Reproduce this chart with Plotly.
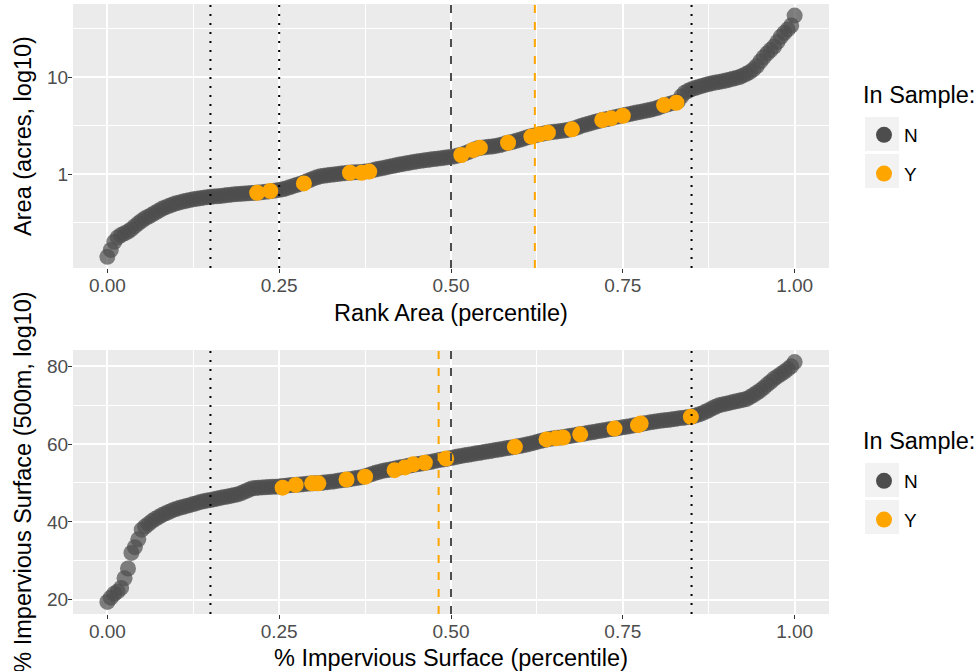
import plotly.graph_objects as go
import pandas as pd

# ---------------- data ----------------
# Top panel: site area (acres), sorted ascending
area_acres = [0.14, 0.165, 0.20, 0.222, 0.235, 0.245, 0.255, 0.27, 0.29, 0.31,
              0.33, 0.35, 0.365, 0.382, 0.40, 0.42, 0.44, 0.455, 0.47, 0.485,
              0.50, 0.51, 0.52, 0.53, 0.54, 0.548, 0.555, 0.562, 0.57, 0.577,
              0.583, 0.587, 0.59, 0.595, 0.60, 0.606, 0.612, 0.617, 0.622, 0.626,
              0.63, 0.633, 0.637, 0.641, 0.645, 0.65, 0.655, 0.662, 0.67, 0.677,
              0.685, 0.697, 0.71, 0.73, 0.75, 0.77, 0.79, 0.815, 0.84, 0.87,
              0.90, 0.925, 0.95, 0.96, 0.97, 0.98, 0.99, 1.00, 1.01, 1.02,
              1.03, 1.035, 1.04, 1.045, 1.05, 1.06, 1.07, 1.09, 1.11, 1.13,
              1.15, 1.17, 1.19, 1.21, 1.23, 1.25, 1.27, 1.29, 1.31, 1.33,
              1.35, 1.365, 1.38, 1.395, 1.41, 1.425, 1.44, 1.455, 1.47, 1.485,
              1.50, 1.52, 1.55, 1.58, 1.63, 1.68, 1.74, 1.80, 1.85, 1.87,
              1.89, 1.905, 1.92, 1.95, 1.98, 2.02, 2.07, 2.11, 2.15, 2.20,
              2.25, 2.31, 2.38, 2.43, 2.48, 2.53, 2.58, 2.62, 2.66, 2.69,
              2.72, 2.75, 2.78, 2.81, 2.85, 2.90, 2.96, 3.05, 3.15, 3.22,
              3.30, 3.37, 3.45, 3.52, 3.60, 3.66, 3.72, 3.80, 3.88, 3.95,
              4.02, 4.08, 4.15, 4.22, 4.30, 4.37, 4.45, 4.52, 4.60, 4.69,
              4.78, 4.95, 5.10, 5.22, 5.35, 5.47, 5.60, 6.30, 6.90, 7.20,
              7.50, 7.70, 7.90, 8.10, 8.30, 8.48, 8.65, 8.78, 8.90, 9.05,
              9.20, 9.40, 9.60, 9.80, 10.0, 10.4, 10.8, 11.3, 12.0, 13.0,
              14.5, 16.0, 17.5, 19.0, 20.6, 23.0, 26.0, 28.5, 31.0, 34.0,
              43.0]

# Bottom panel: % impervious surface (500m), sorted ascending
impervious = [19.4, 20.5, 21.5, 22.1, 23.0, 25.5, 28.0, 32.0, 33.5, 35.5,
              38.0, 38.8, 39.5, 40.2, 40.8, 41.3, 41.8, 42.2, 42.6, 43.0,
              43.3, 43.6, 43.8, 44.1, 44.3, 44.6, 44.8, 45.1, 45.3, 45.5,
              45.6, 45.8, 46.0, 46.2, 46.4, 46.5, 46.7, 46.9, 47.1, 47.4,
              47.8, 48.2, 48.6, 48.7, 48.8, 48.85, 48.9, 48.95, 49.0, 49.05,
              49.1, 49.2, 49.3, 49.4, 49.5, 49.55, 49.6, 49.7, 49.8, 49.85,
              49.9, 49.95, 50.0, 50.1, 50.2, 50.3, 50.4, 50.55, 50.7, 50.8,
              50.9, 51.05, 51.2, 51.35, 51.5, 51.7, 52.0, 52.3, 52.6, 52.85,
              53.1, 53.25, 53.4, 53.6, 53.8, 53.95, 54.1, 54.3, 54.5, 54.65,
              54.8, 54.95, 55.1, 55.25, 55.4, 55.6, 55.8, 55.95, 56.1, 56.25,
              56.4, 56.6, 56.8, 56.95, 57.1, 57.25, 57.4, 57.55, 57.7, 57.85,
              58.0, 58.15, 58.3, 58.45, 58.6, 58.75, 58.9, 59.05, 59.2, 59.35,
              59.5, 59.7, 59.9, 60.1, 60.3, 60.55, 60.8, 61.0, 61.2, 61.35,
              61.5, 61.6, 61.7, 61.85, 62.0, 62.15, 62.3, 62.45, 62.6, 62.75,
              62.9, 63.05, 63.2, 63.35, 63.5, 63.65, 63.8, 63.9, 64.0, 64.15,
              64.3, 64.45, 64.6, 64.75, 64.9, 65.1, 65.3, 65.45, 65.6, 65.75,
              65.9, 66.0, 66.1, 66.2, 66.3, 66.45, 66.6, 66.7, 66.8, 66.95,
              67.1, 67.3, 67.6, 67.9, 68.3, 68.7, 69.2, 69.6, 70.0, 70.2,
              70.4, 70.6, 70.8, 71.0, 71.2, 71.4, 71.6, 72.1, 72.6, 73.2,
              73.8, 74.5, 75.3, 76.0, 76.8, 77.4, 78.0, 78.6, 79.3, 80.0,
              81.1]

# Sampled sites (In Sample = Y)
sample_area_rank = [0.218, 0.237, 0.286, 0.353, 0.370, 0.381, 0.515, 0.532, 0.542, 0.583,
                    0.617, 0.629, 0.641, 0.676, 0.720, 0.733, 0.750, 0.810, 0.828]
sample_area_acres = [0.641, 0.668, 0.80, 1.03, 1.03, 1.06, 1.57, 1.77, 1.87, 2.10,
                     2.43, 2.57, 2.67, 2.89, 3.60, 3.75, 3.99, 5.14, 5.43]

sample_imp_rank = [0.255, 0.274, 0.298, 0.307, 0.348, 0.375, 0.418, 0.433, 0.445, 0.462,
                   0.493, 0.593, 0.639, 0.653, 0.663, 0.688, 0.738, 0.772, 0.776, 0.849]
sample_imp_value = [48.8, 49.5, 49.9, 49.9, 50.9, 51.6, 53.3, 54.0, 54.8, 55.2,
                    56.3, 59.3, 61.2, 61.5, 61.7, 62.5, 64.0, 64.9, 65.3, 67.0]

# Reference lines
area_cutoffs = [0.15, 0.25, 0.85]
imp_cutoffs = [0.15, 0.85]
median_rank = 0.50
sample_mean_area_rank = 0.622
sample_mean_imp_rank = 0.482

x_ticks = [0, 0.25, 0.5, 0.75, 1.0]
x_tick_labels = ["0.00", "0.25", "0.50", "0.75", "1.00"]
area_ticks = [1, 10]
area_tick_labels = ["1", "10"]
imp_ticks = [20, 40, 60, 80]
legend_labels = ["N", "Y"]
legend_title = "In Sample:"

# ---------------- styles ----------------
GREY = "#4d4d4d"
ORANGE = "#FFA500"
PANEL = "#ebebeb"
FONT = "Liberation Sans, Arial, sans-serif"
MS = 16
TICK_FS = 19
TITLE_FS = 23.5

W, H = 977, 671
ML, MR, MT, MB = 73, 148, 4, 57
PW, PH = W - ML - MR, H - MT - MB


def px_x(p):
    return (p - ML) / PW


def px_y(p):
    return (H - MB - p) / PH


def pct_rank(vals):
    s = pd.Series(vals)
    return ((s.rank(method="first") - 1) / (len(s) - 1)).tolist()


fig = go.Figure()

# top panel
fig.add_trace(go.Scatter(x=pct_rank(area_acres), y=area_acres, mode="markers",
                         marker=dict(size=MS, color=GREY, opacity=0.7, line=dict(width=0)),
                         xaxis="x", yaxis="y", showlegend=False, hoverinfo="skip"))
fig.add_trace(go.Scatter(x=sample_area_rank, y=sample_area_acres, mode="markers",
                         marker=dict(size=MS, color=ORANGE, line=dict(width=0)),
                         xaxis="x", yaxis="y", showlegend=False))
# bottom panel
fig.add_trace(go.Scatter(x=pct_rank(impervious), y=impervious, mode="markers",
                         marker=dict(size=MS, color=GREY, opacity=0.7, line=dict(width=0)),
                         xaxis="x2", yaxis="y2", showlegend=False, hoverinfo="skip"))
fig.add_trace(go.Scatter(x=sample_imp_rank, y=sample_imp_value, mode="markers",
                         marker=dict(size=MS, color=ORANGE, line=dict(width=0)),
                         xaxis="x2", yaxis="y2", showlegend=False))

# legend entries
for leg, xa, ya in (("legend", "x", "y"), ("legend2", "x2", "y2")):
    for lab, col in zip(legend_labels, [GREY, ORANGE]):
        fig.add_trace(go.Scatter(x=[None], y=[None], mode="markers", name=lab,
                                 marker=dict(size=16, color=col),
                                 legend=leg, legendgroup=leg + lab,
                                 xaxis=xa, yaxis=ya, showlegend=True))

shapes = []
for c in area_cutoffs:
    shapes.append(dict(type="line", xref="x", yref="y domain", x0=c, x1=c, y0=0, y1=1,
                       line=dict(color="black", width=2, dash="2px,7px")))
shapes.append(dict(type="line", xref="x", yref="y domain", x0=median_rank, x1=median_rank, y0=0, y1=1,
                   line=dict(color=GREY, width=2, dash="8px,9px")))
shapes.append(dict(type="line", xref="x", yref="y domain", x0=sample_mean_area_rank, x1=sample_mean_area_rank,
                   y0=0, y1=1, line=dict(color=ORANGE, width=2, dash="8px,9px")))
for c in imp_cutoffs:
    shapes.append(dict(type="line", xref="x2", yref="y2 domain", x0=c, x1=c, y0=0, y1=1,
                       line=dict(color="black", width=2, dash="2px,7px")))
shapes.append(dict(type="line", xref="x2", yref="y2 domain", x0=median_rank, x1=median_rank, y0=0, y1=1,
                   line=dict(color=GREY, width=2, dash="8px,9px")))
shapes.append(dict(type="line", xref="x2", yref="y2 domain", x0=sample_mean_imp_rank, x1=sample_mean_imp_rank,
                   y0=0, y1=1, line=dict(color=ORANGE, width=2, dash="8px,9px")))

# legend key backgrounds (paper coords)
for top in (117, 154, 463, 500):
    shapes.append(dict(type="rect", xref="paper", yref="paper", layer="below",
                       x0=px_x(865), x1=px_x(899), y0=px_y(top + 34), y1=px_y(top),
                       fillcolor="#f2f2f2", line=dict(width=0)))

annotations = []
for yc in (95, 441):
    annotations.append(dict(text=legend_title, xref="paper", yref="paper",
                            x=px_x(861), y=px_y(yc), xanchor="left", yanchor="middle",
                            showarrow=False, font=dict(size=TITLE_FS, family=FONT, color="black")))

axis_common = dict(showline=False, zeroline=False, gridcolor="white", gridwidth=1.6,
                   ticks="outside", ticklen=4, tickwidth=1.2, tickcolor="#333333",
                   automargin=False, ticklabelstandoff=-4,
                   tickfont=dict(size=TICK_FS, color="#4d4d4d", family=FONT),
                   title_font=dict(size=TITLE_FS, color="black", family=FONT))

xminor = dict(tickmode="array", tickvals=[0.125, 0.375, 0.625, 0.875], showgrid=True,
              gridcolor="white", gridwidth=0.8, ticks="")

legend_common = dict(xanchor="left", yanchor="top", bgcolor="rgba(0,0,0,0)",
                     font=dict(size=TICK_FS, family=FONT, color="black"),
                     tracegroupgap=11, itemsizing="trace")

fig.update_layout(
    width=W, height=H,
    margin=dict(l=ML, r=MR, t=MT, b=MB, autoexpand=False),
    paper_bgcolor="white", plot_bgcolor=PANEL,
    font=dict(family=FONT, color="black"),
    xaxis=dict(domain=[0, 1], anchor="y", range=[-0.05, 1.05], tickvals=x_ticks,
               ticktext=x_tick_labels, minor=xminor,
               title=dict(text="Rank Area (percentile)", standoff=9), **axis_common),
    yaxis=dict(domain=[px_y(268), 1], anchor="x", type="log", range=[-0.969, 1.753],
               tickvals=area_ticks, ticktext=area_tick_labels,
               minor=dict(tickmode="array", tickvals=[0.3162, 3.162, 31.62], showgrid=True,
                          gridcolor="white", gridwidth=0.8, ticks=""),
               title=dict(text="Area (acres, log10)", standoff=8), **axis_common),
    xaxis2=dict(domain=[0, 1], anchor="y2", range=[-0.05, 1.05], tickvals=x_ticks,
                ticktext=x_tick_labels, minor=xminor,
                title=dict(text="% Impervious Surface (percentile)", standoff=9), **axis_common),
    yaxis2=dict(domain=[0, px_y(350)], anchor="x2", range=[16.3, 84.2],
                tickvals=imp_ticks,
                minor=dict(tickmode="array", tickvals=[30, 50, 70], showgrid=True,
                           gridcolor="white", gridwidth=0.8, ticks=""),
                title=dict(text="% Impervious Surface (500m, log10)", standoff=8), **axis_common),
    legend=dict(x=px_x(864), y=px_y(116), **legend_common),
    legend2=dict(x=px_x(864), y=px_y(462), **legend_common),
    shapes=shapes,
    annotations=annotations,
)

fig.write_html("out.html", config={"displayModeBar": False},
               post_script="document.body.style.margin='0';")
